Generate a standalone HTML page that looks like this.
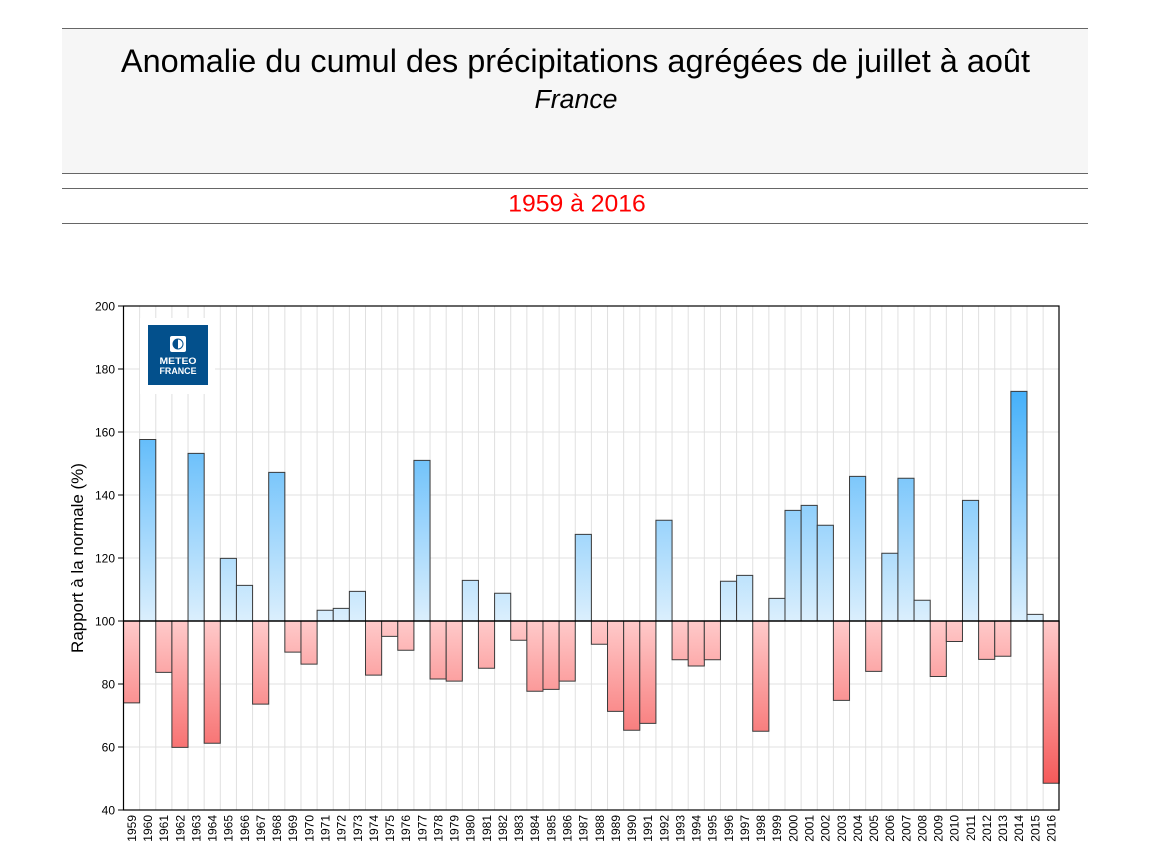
<!DOCTYPE html>
<html><head><meta charset="utf-8"><style>
html,body{margin:0;padding:0;background:#fff;}
svg{display:block;}
text{font-family:"Liberation Sans",Arial,sans-serif;}
</style></head><body>
<svg width="1150" height="866" viewBox="0 0 1150 866" xmlns="http://www.w3.org/2000/svg">
<rect x="0" y="0" width="1150" height="866" fill="#fff"/>
<!-- header -->
<rect x="62" y="28" width="1026" height="145.5" fill="#f6f6f6"/>
<g stroke="#666" stroke-width="1">
<line x1="62" y1="28.5" x2="1088" y2="28.5"/>
<line x1="62" y1="173.5" x2="1088" y2="173.5"/>
<line x1="62" y1="188.5" x2="1088" y2="188.5"/>
<line x1="62" y1="223.5" x2="1088" y2="223.5"/>
</g>
<text x="575.5" y="72" font-size="32.5" text-anchor="middle" fill="#000" textLength="909" lengthAdjust="spacingAndGlyphs">Anomalie du cumul des précipitations agrégées de juillet à août</text>
<text x="576" y="108" font-size="25.5" font-style="italic" text-anchor="middle" fill="#000" textLength="83" lengthAdjust="spacingAndGlyphs">France</text>
<text x="577" y="211.5" font-size="24.5" text-anchor="middle" fill="#ff0000" textLength="137.5" lengthAdjust="spacingAndGlyphs">1959 à 2016</text>

<defs>
<linearGradient id="gb" gradientUnits="userSpaceOnUse" x1="0" y1="100" x2="0" y2="173">
<stop offset="0" stop-color="#dbeffd"/><stop offset="1" stop-color="#45b0fa"/>
</linearGradient>
<linearGradient id="gr" gradientUnits="userSpaceOnUse" x1="0" y1="100" x2="0" y2="48.5">
<stop offset="0" stop-color="#ffcaca"/><stop offset="1" stop-color="#f55a5a"/>
</linearGradient>
</defs>

<!-- grid -->
<g transform="translate(123.5,936) scale(16.134,-3.15)" stroke="#e0e0e0" stroke-width="1" fill="none">
<path vector-effect="non-scaling-stroke" d="M1 40V200M2 40V200M3 40V200M4 40V200M5 40V200M6 40V200M7 40V200M8 40V200M9 40V200M10 40V200M11 40V200M12 40V200M13 40V200M14 40V200M15 40V200M16 40V200M17 40V200M18 40V200M19 40V200M20 40V200M21 40V200M22 40V200M23 40V200M24 40V200M25 40V200M26 40V200M27 40V200M28 40V200M29 40V200M30 40V200M31 40V200M32 40V200M33 40V200M34 40V200M35 40V200M36 40V200M37 40V200M38 40V200M39 40V200M40 40V200M41 40V200M42 40V200M43 40V200M44 40V200M45 40V200M46 40V200M47 40V200M48 40V200M49 40V200M50 40V200M51 40V200M52 40V200M53 40V200M54 40V200M55 40V200M56 40V200M57 40V200M0 60H58M0 80H58M0 120H58M0 140H58M0 160H58M0 180H58"/>
</g>

<!-- logo -->
<rect x="140" y="318" width="75" height="76" fill="#fff"/>
<rect x="148" y="325" width="60" height="60" fill="#03508c"/>
<rect x="170" y="336" width="16" height="16" rx="2" fill="#fff"/>
<circle cx="178" cy="344" r="5.5" fill="#03508c"/>
<path d="M178 339.5 A4.5 4.5 0 0 1 178 348.5 Z" fill="#fff"/>
<text x="178" y="364" font-size="9.5" font-weight="bold" text-anchor="middle" fill="#fff" textLength="37" lengthAdjust="spacingAndGlyphs">METEO</text>
<text x="178" y="374" font-size="9.5" font-weight="bold" text-anchor="middle" fill="#fff" textLength="37" lengthAdjust="spacingAndGlyphs">FRANCE</text>

<!-- bars -->
<g transform="translate(123.5,936) scale(16.134,-3.15)" stroke="#3a3a3a" stroke-width="1">
<g fill="url(#gb)">
<rect vector-effect="non-scaling-stroke" x="1" y="100" width="1" height="57.6"/>
<rect vector-effect="non-scaling-stroke" x="4" y="100" width="1" height="53.2"/>
<rect vector-effect="non-scaling-stroke" x="6" y="100" width="1" height="19.9"/>
<rect vector-effect="non-scaling-stroke" x="7" y="100" width="1" height="11.3"/>
<rect vector-effect="non-scaling-stroke" x="9" y="100" width="1" height="47.2"/>
<rect vector-effect="non-scaling-stroke" x="12" y="100" width="1" height="3.4"/>
<rect vector-effect="non-scaling-stroke" x="13" y="100" width="1" height="4.0"/>
<rect vector-effect="non-scaling-stroke" x="14" y="100" width="1" height="9.4"/>
<rect vector-effect="non-scaling-stroke" x="18" y="100" width="1" height="51.0"/>
<rect vector-effect="non-scaling-stroke" x="21" y="100" width="1" height="12.9"/>
<rect vector-effect="non-scaling-stroke" x="23" y="100" width="1" height="8.8"/>
<rect vector-effect="non-scaling-stroke" x="28" y="100" width="1" height="27.5"/>
<rect vector-effect="non-scaling-stroke" x="33" y="100" width="1" height="32.0"/>
<rect vector-effect="non-scaling-stroke" x="37" y="100" width="1" height="12.6"/>
<rect vector-effect="non-scaling-stroke" x="38" y="100" width="1" height="14.5"/>
<rect vector-effect="non-scaling-stroke" x="40" y="100" width="1" height="7.2"/>
<rect vector-effect="non-scaling-stroke" x="41" y="100" width="1" height="35.1"/>
<rect vector-effect="non-scaling-stroke" x="42" y="100" width="1" height="36.7"/>
<rect vector-effect="non-scaling-stroke" x="43" y="100" width="1" height="30.4"/>
<rect vector-effect="non-scaling-stroke" x="45" y="100" width="1" height="45.9"/>
<rect vector-effect="non-scaling-stroke" x="47" y="100" width="1" height="21.5"/>
<rect vector-effect="non-scaling-stroke" x="48" y="100" width="1" height="45.3"/>
<rect vector-effect="non-scaling-stroke" x="49" y="100" width="1" height="6.6"/>
<rect vector-effect="non-scaling-stroke" x="52" y="100" width="1" height="38.3"/>
<rect vector-effect="non-scaling-stroke" x="55" y="100" width="1" height="72.9"/>
<rect vector-effect="non-scaling-stroke" x="56" y="100" width="1" height="2.1"/>
</g>
<g fill="url(#gr)">
<rect vector-effect="non-scaling-stroke" x="0" y="74.0" width="1" height="26.0"/>
<rect vector-effect="non-scaling-stroke" x="2" y="83.7" width="1" height="16.3"/>
<rect vector-effect="non-scaling-stroke" x="3" y="59.9" width="1" height="40.1"/>
<rect vector-effect="non-scaling-stroke" x="5" y="61.2" width="1" height="38.8"/>
<rect vector-effect="non-scaling-stroke" x="8" y="73.6" width="1" height="26.4"/>
<rect vector-effect="non-scaling-stroke" x="10" y="90.1" width="1" height="9.9"/>
<rect vector-effect="non-scaling-stroke" x="11" y="86.3" width="1" height="13.7"/>
<rect vector-effect="non-scaling-stroke" x="15" y="82.8" width="1" height="17.2"/>
<rect vector-effect="non-scaling-stroke" x="16" y="95.1" width="1" height="4.9"/>
<rect vector-effect="non-scaling-stroke" x="17" y="90.7" width="1" height="9.3"/>
<rect vector-effect="non-scaling-stroke" x="19" y="81.6" width="1" height="18.4"/>
<rect vector-effect="non-scaling-stroke" x="20" y="80.9" width="1" height="19.1"/>
<rect vector-effect="non-scaling-stroke" x="22" y="85.0" width="1" height="15.0"/>
<rect vector-effect="non-scaling-stroke" x="24" y="93.9" width="1" height="6.1"/>
<rect vector-effect="non-scaling-stroke" x="25" y="77.7" width="1" height="22.3"/>
<rect vector-effect="non-scaling-stroke" x="26" y="78.3" width="1" height="21.7"/>
<rect vector-effect="non-scaling-stroke" x="27" y="80.9" width="1" height="19.1"/>
<rect vector-effect="non-scaling-stroke" x="29" y="92.6" width="1" height="7.4"/>
<rect vector-effect="non-scaling-stroke" x="30" y="71.3" width="1" height="28.7"/>
<rect vector-effect="non-scaling-stroke" x="31" y="65.3" width="1" height="34.7"/>
<rect vector-effect="non-scaling-stroke" x="32" y="67.5" width="1" height="32.5"/>
<rect vector-effect="non-scaling-stroke" x="34" y="87.7" width="1" height="12.3"/>
<rect vector-effect="non-scaling-stroke" x="35" y="85.7" width="1" height="14.3"/>
<rect vector-effect="non-scaling-stroke" x="36" y="87.7" width="1" height="12.3"/>
<rect vector-effect="non-scaling-stroke" x="39" y="65.0" width="1" height="35.0"/>
<rect vector-effect="non-scaling-stroke" x="44" y="74.8" width="1" height="25.2"/>
<rect vector-effect="non-scaling-stroke" x="46" y="84.0" width="1" height="16.0"/>
<rect vector-effect="non-scaling-stroke" x="50" y="82.4" width="1" height="17.6"/>
<rect vector-effect="non-scaling-stroke" x="51" y="93.5" width="1" height="6.5"/>
<rect vector-effect="non-scaling-stroke" x="53" y="87.8" width="1" height="12.2"/>
<rect vector-effect="non-scaling-stroke" x="54" y="88.8" width="1" height="11.2"/>
<rect vector-effect="non-scaling-stroke" x="57" y="48.5" width="1" height="51.5"/>
</g>
</g>

<!-- zero line & frame -->
<line x1="123.5" y1="621" x2="1059" y2="621" stroke="#000" stroke-width="1.5"/>
<rect x="123.5" y="306" width="935.5" height="504" fill="none" stroke="#000" stroke-width="1.2"/>

<!-- y ticks -->
<g stroke="#000" stroke-width="1">
<line x1="118" y1="306" x2="123.5" y2="306"/>
<line x1="118" y1="369" x2="123.5" y2="369"/>
<line x1="118" y1="432" x2="123.5" y2="432"/>
<line x1="118" y1="495" x2="123.5" y2="495"/>
<line x1="118" y1="558" x2="123.5" y2="558"/>
<line x1="118" y1="621" x2="123.5" y2="621"/>
<line x1="118" y1="684" x2="123.5" y2="684"/>
<line x1="118" y1="747" x2="123.5" y2="747"/>
<line x1="118" y1="810" x2="123.5" y2="810"/>
</g>
<g font-size="12" text-anchor="end" fill="#000">
<text x="115" y="310.5">200</text>
<text x="115" y="373.5">180</text>
<text x="115" y="436.5">160</text>
<text x="115" y="499.5">140</text>
<text x="115" y="562.5">120</text>
<text x="115" y="625.5">100</text>
<text x="115" y="688.5">80</text>
<text x="115" y="751.5">60</text>
<text x="115" y="814.5">40</text>
</g>
<text transform="translate(83,558) rotate(-90)" font-size="17" text-anchor="middle" fill="#000">Rapport à la normale (%)</text>

<!-- x labels -->
<g font-size="12" text-anchor="end" fill="#000">
<text transform="translate(135.9,815) rotate(-90)">1959</text>
<text transform="translate(152.0,815) rotate(-90)">1960</text>
<text transform="translate(168.2,815) rotate(-90)">1961</text>
<text transform="translate(184.3,815) rotate(-90)">1962</text>
<text transform="translate(200.4,815) rotate(-90)">1963</text>
<text transform="translate(216.6,815) rotate(-90)">1964</text>
<text transform="translate(232.7,815) rotate(-90)">1965</text>
<text transform="translate(248.8,815) rotate(-90)">1966</text>
<text transform="translate(265.0,815) rotate(-90)">1967</text>
<text transform="translate(281.1,815) rotate(-90)">1968</text>
<text transform="translate(297.2,815) rotate(-90)">1969</text>
<text transform="translate(313.4,815) rotate(-90)">1970</text>
<text transform="translate(329.5,815) rotate(-90)">1971</text>
<text transform="translate(345.6,815) rotate(-90)">1972</text>
<text transform="translate(361.8,815) rotate(-90)">1973</text>
<text transform="translate(377.9,815) rotate(-90)">1974</text>
<text transform="translate(394.0,815) rotate(-90)">1975</text>
<text transform="translate(410.2,815) rotate(-90)">1976</text>
<text transform="translate(426.3,815) rotate(-90)">1977</text>
<text transform="translate(442.4,815) rotate(-90)">1978</text>
<text transform="translate(458.6,815) rotate(-90)">1979</text>
<text transform="translate(474.7,815) rotate(-90)">1980</text>
<text transform="translate(490.8,815) rotate(-90)">1981</text>
<text transform="translate(507.0,815) rotate(-90)">1982</text>
<text transform="translate(523.1,815) rotate(-90)">1983</text>
<text transform="translate(539.2,815) rotate(-90)">1984</text>
<text transform="translate(555.4,815) rotate(-90)">1985</text>
<text transform="translate(571.5,815) rotate(-90)">1986</text>
<text transform="translate(587.6,815) rotate(-90)">1987</text>
<text transform="translate(603.8,815) rotate(-90)">1988</text>
<text transform="translate(619.9,815) rotate(-90)">1989</text>
<text transform="translate(636.0,815) rotate(-90)">1990</text>
<text transform="translate(652.2,815) rotate(-90)">1991</text>
<text transform="translate(668.3,815) rotate(-90)">1992</text>
<text transform="translate(684.4,815) rotate(-90)">1993</text>
<text transform="translate(700.6,815) rotate(-90)">1994</text>
<text transform="translate(716.7,815) rotate(-90)">1995</text>
<text transform="translate(732.8,815) rotate(-90)">1996</text>
<text transform="translate(749.0,815) rotate(-90)">1997</text>
<text transform="translate(765.1,815) rotate(-90)">1998</text>
<text transform="translate(781.2,815) rotate(-90)">1999</text>
<text transform="translate(797.4,815) rotate(-90)">2000</text>
<text transform="translate(813.5,815) rotate(-90)">2001</text>
<text transform="translate(829.6,815) rotate(-90)">2002</text>
<text transform="translate(845.8,815) rotate(-90)">2003</text>
<text transform="translate(861.9,815) rotate(-90)">2004</text>
<text transform="translate(878.0,815) rotate(-90)">2005</text>
<text transform="translate(894.2,815) rotate(-90)">2006</text>
<text transform="translate(910.3,815) rotate(-90)">2007</text>
<text transform="translate(926.4,815) rotate(-90)">2008</text>
<text transform="translate(942.6,815) rotate(-90)">2009</text>
<text transform="translate(958.7,815) rotate(-90)">2010</text>
<text transform="translate(974.8,815) rotate(-90)">2011</text>
<text transform="translate(991.0,815) rotate(-90)">2012</text>
<text transform="translate(1007.1,815) rotate(-90)">2013</text>
<text transform="translate(1023.2,815) rotate(-90)">2014</text>
<text transform="translate(1039.4,815) rotate(-90)">2015</text>
<text transform="translate(1055.5,815) rotate(-90)">2016</text>
</g>
</svg>
</body></html>
